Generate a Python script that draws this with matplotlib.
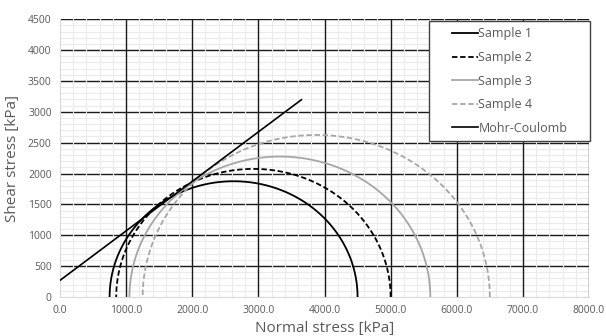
import numpy as np
import matplotlib
matplotlib.use("Agg")
import matplotlib.pyplot as plt
from matplotlib.legend_handler import HandlerLine2D

# Mohr circles: minor / major principal stress [kPa]
samples = ["Sample 1", "Sample 2", "Sample 3", "Sample 4"]
sigma3 = [750, 850, 1050, 1250]
sigma1 = [4500, 5000, 5600, 6500]
colors = ["black", "black", "#a6a6a6", "#a6a6a6"]
styles = ["-", "--", "-", "--"]

# Mohr-Coulomb envelope end points
mc_sigma = [0, 3650]
mc_tau = [270, 3195]

plt.rcParams['font.family'] = ['Open Sans', 'DejaVu Sans']
fig = plt.figure(figsize=(6.06, 3.36), dpi=100)
ax = fig.add_axes([0.099, 0.116, 0.873, 0.827])

ax.set_xlim(0, 8000)
ax.set_ylim(0, 4500)

# Excel style grid: light minor lines, dark major lines
for y in np.arange(0, 4501, 100):
    ax.axhline(y, color="#ebebeb", lw=0.8, zorder=0)
for y in np.arange(500, 4501, 500):
    ax.axhline(y, color="#1a1a1a", lw=1.0, zorder=0.5)
for x in np.arange(0, 8001, 200):
    ax.axvline(x, color="#ebebeb", lw=0.8, zorder=0.7)
for x in np.arange(1000, 8001, 1000):
    ax.axvline(x, color="#1a1a1a", lw=1.0, zorder=0.8)

# Draw the upper halves of the Mohr circles
theta = np.linspace(0, np.pi, 300)
for name, s3, s1, c, ls in zip(samples, sigma3, sigma1, colors, styles):
    center = (s1 + s3) / 2
    radius = (s1 - s3) / 2
    ax.plot(center + radius * np.cos(theta), radius * np.sin(theta),
            color=c, ls=ls, lw=1.3, label=name, zorder=3,
            dashes=(3, 1.5) if ls == "--" else (None, None))

ax.plot(mc_sigma, mc_tau, color="black", lw=1.2, label="Mohr-Coulomb", zorder=3)

ax.set_xticks(np.arange(0, 8001, 1000))
ax.set_xticklabels([f"{v:.1f}" for v in np.arange(0, 8001, 1000)])
ax.set_yticks(np.arange(0, 4501, 500))
ax.tick_params(length=0, labelsize=7.5, colors="#595959", pad=6)

for side in ["top", "right"]:
    ax.spines[side].set_visible(False)
for side in ["left", "bottom"]:
    ax.spines[side].set_color("#d9d9d9")

ax.set_xlabel("Normal stress [kPa]", fontsize=11, color="#595959", labelpad=3)
ax.set_ylabel("Shear stress [kPa]", fontsize=11, color="#595959", labelpad=6)

# Legend box with wide left padding like Excel
leg = ax.legend(loc="upper left", bbox_to_anchor=(0.6975, 0.993, 0.304, 0.0),
                mode="expand", fontsize=9,
                handlelength=3.4, handletextpad=0.05, labelspacing=0.85,
                fancybox=False, framealpha=1, edgecolor="#404040",
                borderpad=0.5, borderaxespad=0.0,
                handler_map={plt.Line2D: HandlerLine2D(xpad=1.35)})
leg.get_frame().set_linewidth(1.0)
for t in leg.get_texts():
    t.set_color("#595959")

fig.savefig("out.png", dpi=100)
